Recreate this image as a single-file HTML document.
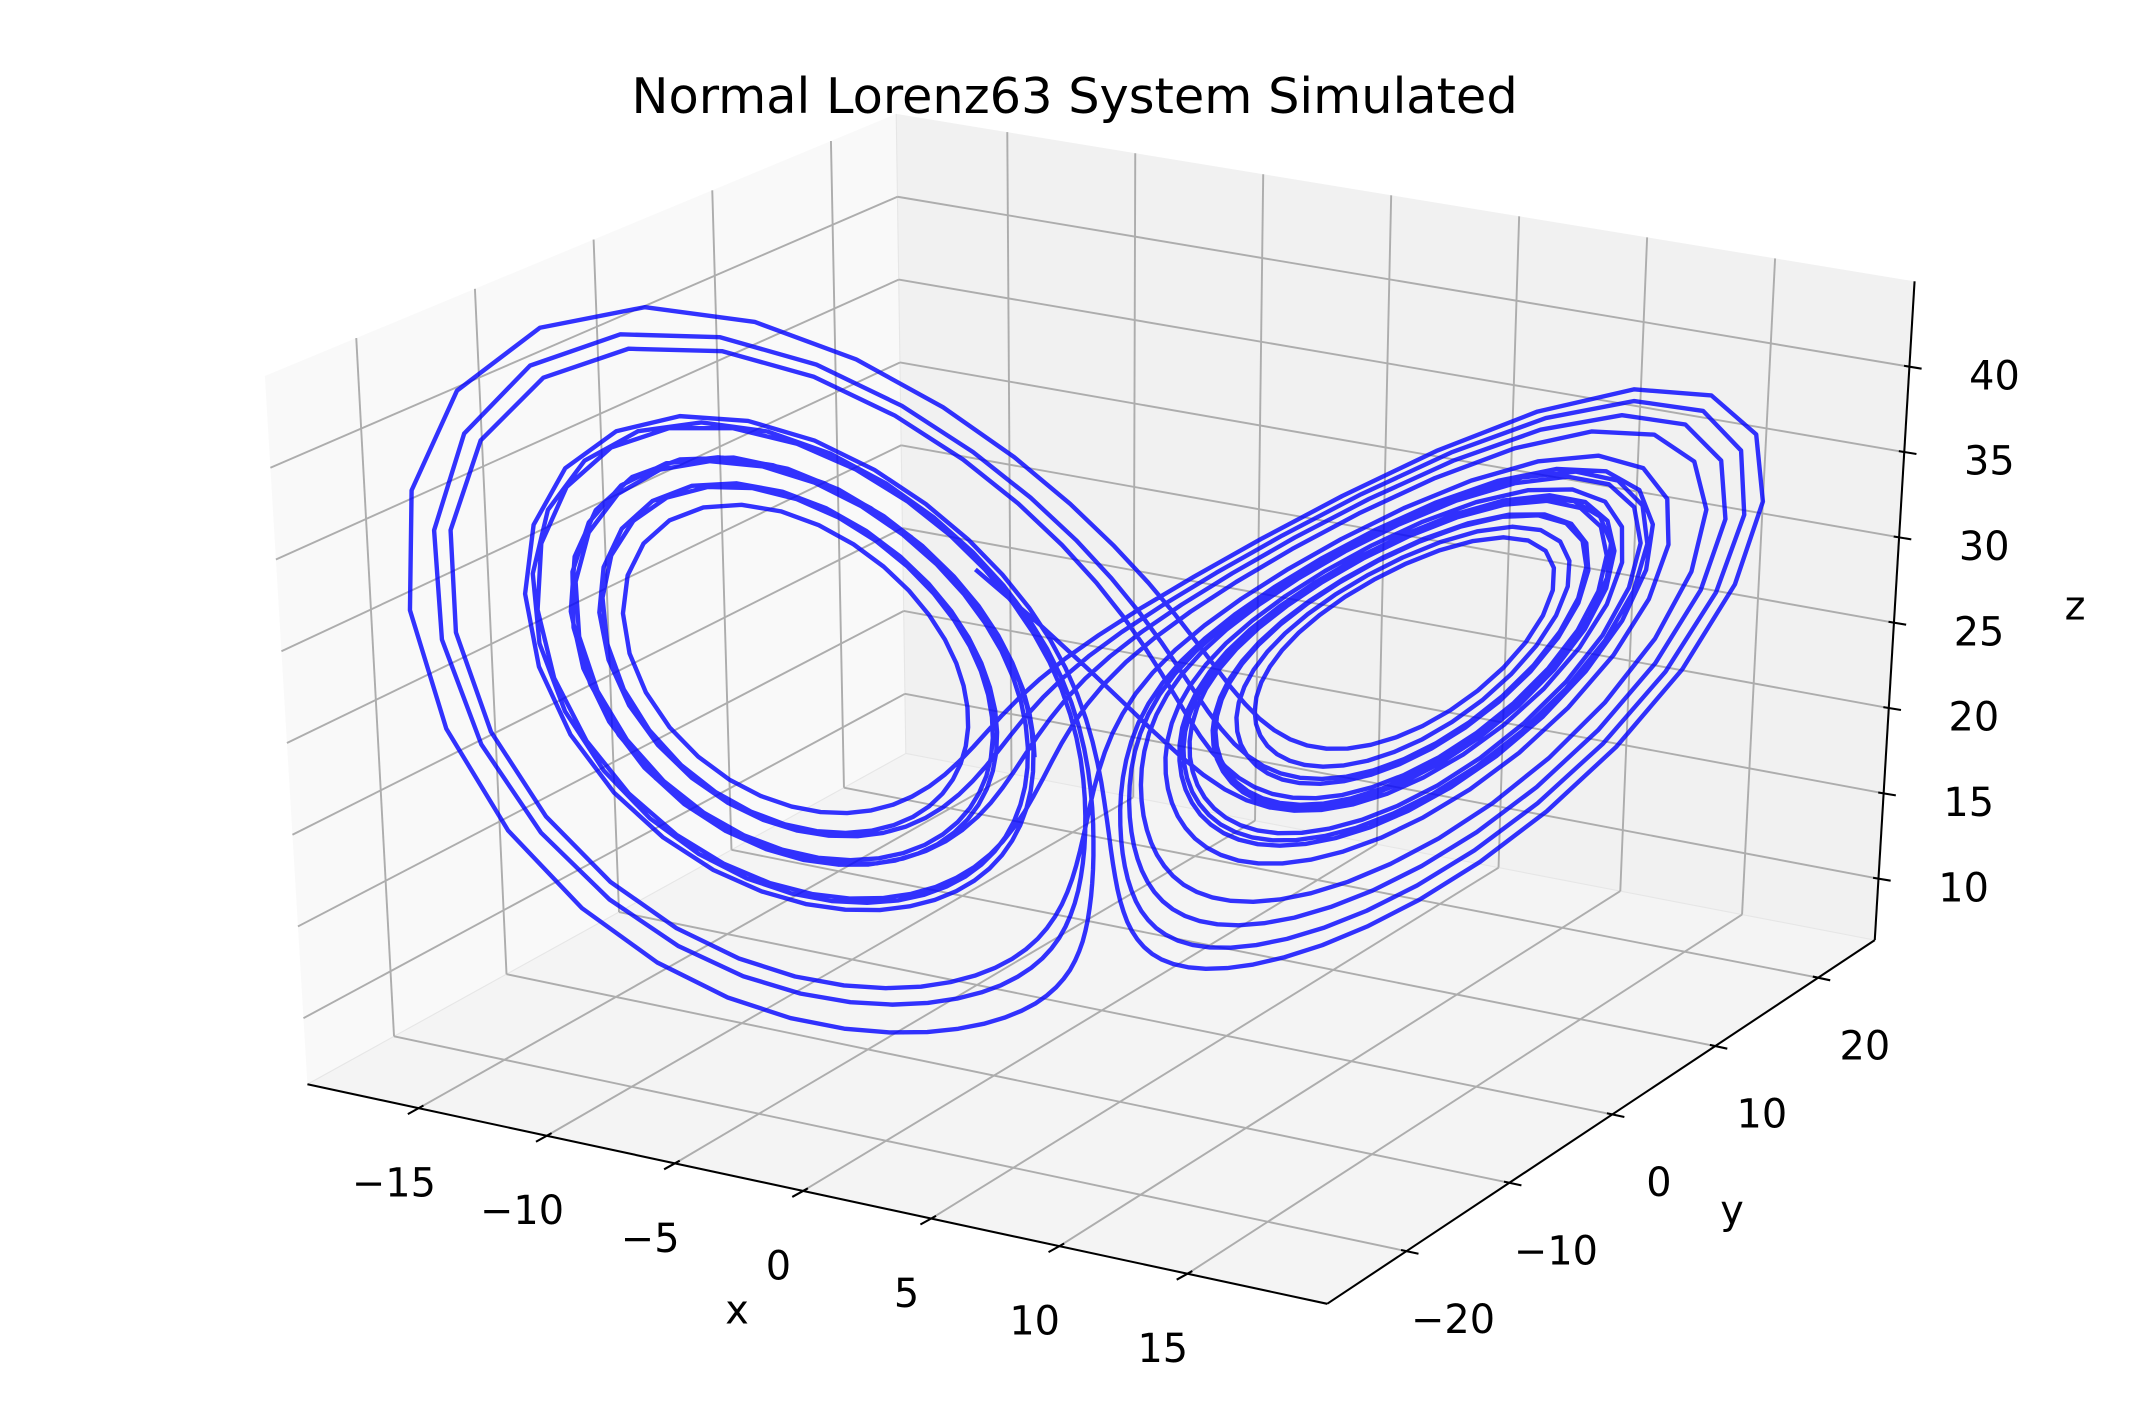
<!DOCTYPE html>
<html><head><meta charset="utf-8"><title>Normal Lorenz63 System Simulated</title>
<style>html,body{margin:0;padding:0;background:#fff;}svg{display:block;}</style>
</head><body>
<svg id="chart" xmlns="http://www.w3.org/2000/svg" width="2152" height="1418" viewBox="0 0 1568 1033.2" preserveAspectRatio="none" font-family="'DejaVu Sans','Liberation Sans',sans-serif">
<rect x="0" y="0" width="1568" height="1034" fill="#ffffff"/>
<g id="panes"></g>
<g id="grid"></g>
<g id="axes"></g>
<g id="series"></g>
<g id="labels"></g>
<text x="783" y="70" text-anchor="middle" dominant-baseline="central" font-size="36" fill="#000">Normal Lorenz63 System Simulated</text>
</svg>
<script>
// Axis tick values and labels
const xTicks = [-15, -10, -5, 0, 5, 10, 15];
const yTicks = [-20, -10, 0, 10, 20];
const zTicks = [10, 15, 20, 25, 30, 35, 40];
const xTickLabels = ['\u221215', '\u221210', '\u22125', '0', '5', '10', '15'];
const yTickLabels = ['\u221220', '\u221210', '0', '10', '20'];
const zTickLabels = ['10', '15', '20', '25', '30', '35', '40'];
// Axis limits
const xLimits = [-19.34, 20.45];
const yLimits = [-27.7, 25.5];
const zLimits = [6.4, 45.0];
// Lorenz63 simulation inputs: sigma, rho, beta
const lorenzParams = [10, 28, 8 / 3];
const initialState = [-8.0, 7.0, 27.0];
const timeStep = [0.01];
const stepCount = [2100];
const sampleEvery = [2];

const NS = 'http://www.w3.org/2000/svg';
const C = {
  '000': [224, 790], '100': [967, 950], '110': [1366, 685], '010': [660, 549],
  '001': [193, 274], '101': [975, 440], '111': [1395, 205], '011': [653, 83]
};
function P(x, y, z) {
  const u = (x - xLimits[0]) / (xLimits[1] - xLimits[0]);
  const v = (y - yLimits[0]) / (yLimits[1] - yLimits[0]);
  const w = (z - zLimits[0]) / (zLimits[1] - zLimits[0]);
  const out = [0, 0];
  for (let i = 0; i < 2; i++) for (let j = 0; j < 2; j++) for (let k = 0; k < 2; k++) {
    const wt = (i ? u : 1 - u) * (j ? v : 1 - v) * (k ? w : 1 - w);
    const c = C['' + i + j + k];
    out[0] += wt * c[0]; out[1] += wt * c[1];
  }
  return out;
}
function line(parent, a, b, stroke, width, name) {
  const l = document.createElementNS(NS, 'line');
  l.setAttribute('x1', a[0]); l.setAttribute('y1', a[1]);
  l.setAttribute('x2', b[0]); l.setAttribute('y2', b[1]);
  l.setAttribute('stroke', stroke); l.setAttribute('stroke-width', width);
  
  
  parent.appendChild(l);
  return l;
}
function poly(parent, pts, fill, name) {
  const p = document.createElementNS(NS, 'polygon');
  p.setAttribute('points', pts.map(q => q.join(',')).join(' '));
  p.setAttribute('fill', fill);
  
  
  parent.appendChild(p);
}
function text(parent, pos, str, size, name) {
  const t = document.createElementNS(NS, 'text');
  t.setAttribute('x', pos[0]); t.setAttribute('y', pos[1]);
  t.setAttribute('text-anchor', 'middle');
  t.setAttribute('dominant-baseline', 'central');
  t.setAttribute('font-size', size);
  t.setAttribute('fill', '#000');
  t.textContent = str;
  
  
  parent.appendChild(t);
}
const [X0, X1] = xLimits, [Y0, Y1] = yLimits, [Z0, Z1] = zLimits;
const panes = document.getElementById('panes');
poly(panes, [P(X0,Y0,Z0), P(X0,Y1,Z0), P(X0,Y1,Z1), P(X0,Y0,Z1)], '#f9f9f9', 'left-pane');
poly(panes, [P(X0,Y1,Z0), P(X1,Y1,Z0), P(X1,Y1,Z1), P(X0,Y1,Z1)], '#f1f1f1', 'back-pane');
poly(panes, [P(X0,Y0,Z0), P(X1,Y0,Z0), P(X1,Y1,Z0), P(X0,Y1,Z0)], '#f4f4f4', 'floor-pane');
const grid = document.getElementById('grid');
line(grid, P(X0,Y1,Z0), P(X0,Y1,Z1), '#e6e6e6', 0.8, 'pane-edge');
line(grid, P(X0,Y0,Z0), P(X0,Y1,Z0), '#e6e6e6', 0.8, 'pane-edge');
line(grid, P(X0,Y1,Z0), P(X1,Y1,Z0), '#e6e6e6', 0.8, 'pane-edge');
const GC = '#adadad', GW = 1.4;
xTicks.forEach(x => {
  line(grid, P(x,Y0,Z0), P(x,Y1,Z0), GC, GW, 'x-gridline-floor');
  line(grid, P(x,Y1,Z0), P(x,Y1,Z1), GC, GW, 'x-gridline-back');
});
yTicks.forEach(y => {
  line(grid, P(X0,y,Z0), P(X1,y,Z0), GC, GW, 'y-gridline-floor');
  line(grid, P(X0,y,Z0), P(X0,y,Z1), GC, GW, 'y-gridline-left');
});
zTicks.forEach(z => {
  line(grid, P(X0,Y0,z), P(X0,Y1,z), GC, GW, 'z-gridline-left');
  line(grid, P(X0,Y1,z), P(X1,Y1,z), GC, GW, 'z-gridline-back');
});
const axes = document.getElementById('axes');
line(axes, P(X0,Y0,Z0), P(X1,Y0,Z0), '#000', 1.5, 'x-axis-line');
line(axes, P(X1,Y0,Z0), P(X1,Y1,Z0), '#000', 1.5, 'y-axis-line');
line(axes, P(X1,Y1,Z0), P(X1,Y1,Z1), '#000', 1.5, 'z-axis-line');
function unit(a, b) { const dx = b[0]-a[0], dy = b[1]-a[1], L = Math.hypot(dx, dy); return [dx/L, dy/L]; }
const dX = unit(C['010'], C['000']);
const dY = unit(C['000'], C['100']);
const dZ = unit(C['011'], C['111']);
const labels = document.getElementById('labels');
xTicks.forEach((x, i) => {
  const p = P(x, Y0, Z0);
  line(axes, [p[0]-dX[0]*4, p[1]-dX[1]*4], [p[0]+dX[0]*9, p[1]+dX[1]*9], '#000', 1.5, 'x-tick');
  text(labels, [p[0]-18, p[1]+55], xTickLabels[i], 29, 'x-tick-label');
});
yTicks.forEach((y, i) => {
  const p = P(X1, y, Z0);
  line(axes, [p[0]-dY[0]*4, p[1]-dY[1]*4], [p[0]+dY[0]*9, p[1]+dY[1]*9], '#000', 1.5, 'y-tick');
  text(labels, [p[0]+34, p[1]+50], yTickLabels[i], 29, 'y-tick-label');
});
zTicks.forEach((z, i) => {
  const p = P(X1, Y1, z);
  line(axes, [p[0]-dZ[0]*4, p[1]-dZ[1]*4], [p[0]+dZ[0]*9, p[1]+dZ[1]*9], '#000', 1.5, 'z-tick');
  text(labels, [p[0]+62, p[1]+7], zTickLabels[i], 29, 'z-tick-label');
});
text(labels, [537, 955], 'x', 29, 'x-axis-title');
text(labels, [1262, 882], 'y', 29, 'y-axis-title');
text(labels, [1512, 442], 'z', 29, 'z-axis-title');

// Lorenz63 trajectory (RK4 integration of the simulated system)
function deriv(s) {
  const [sg, rh, bt] = lorenzParams;
  return [sg * (s[1] - s[0]), s[0] * (rh - s[2]) - s[1], s[0] * s[1] - bt * s[2]];
}
const traj = [initialState.slice()];
let s = initialState.slice();
const h = timeStep[0];
for (let n = 1; n <= stepCount[0]; n++) {
  const k1 = deriv(s);
  const k2 = deriv(s.map((v, i) => v + h/2*k1[i]));
  const k3 = deriv(s.map((v, i) => v + h/2*k2[i]));
  const k4 = deriv(s.map((v, i) => v + h*k3[i]));
  s = s.map((v, i) => v + h/6*(k1[i] + 2*k2[i] + 2*k3[i] + k4[i]));
  if (n % sampleEvery[0] === 0) traj.push(s.slice());
}
const pl = document.createElementNS(NS, 'polyline');
pl.setAttribute('points', traj.map(q => P(q[0], q[1], q[2]).map(v => v.toFixed(1)).join(',')).join(' '));
pl.setAttribute('fill', 'none');
pl.setAttribute('stroke', '#0000ff');
pl.setAttribute('stroke-opacity', '0.8');
pl.setAttribute('stroke-width', '3.2');
pl.setAttribute('stroke-linejoin', 'round');


document.getElementById('series').appendChild(pl);
</script>
</body></html>
